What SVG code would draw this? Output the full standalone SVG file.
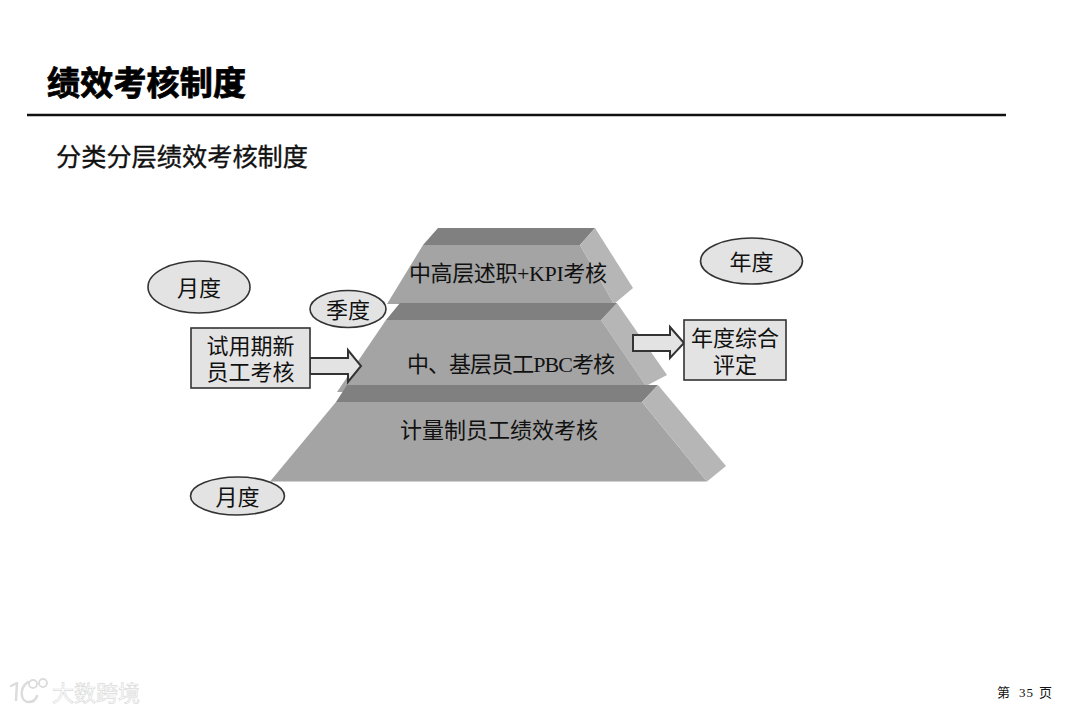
<svg xmlns="http://www.w3.org/2000/svg" width="1080" height="712" viewBox="0 0 1080 712">
<style>
text{font-family:"Liberation Serif","Noto Sans CJK SC",sans-serif;fill:#111;}
.l{font-size:22px;text-anchor:middle;}
.box{fill:#e3e3e3;stroke:#333;stroke-width:1.6;}
.top{fill:#808080;}.front{fill:#a4a4a4;}.side{fill:#b6b6b6;}
.wm{font-family:"Noto Sans CJK SC",sans-serif;font-size:22px;fill:#fff;stroke:#dcdcdc;stroke-width:.7;}
.f{font-size:13px;}
</style>
<rect width="1080" height="712" fill="#fff"/>
<g id="header">
<text x="47" y="95" textLength="199" style="font-family:'Noto Sans CJK SC',sans-serif;font-size:33px;font-weight:700;fill:#000;stroke:#000;stroke-width:.8">绩效考核制度</text>
<line x1="27" y1="115" x2="1006" y2="115" stroke="#111" stroke-width="2.6"/>
<text x="56" y="166" textLength="252" style="font-size:25.200px;font-family:'Noto Sans CJK SC',sans-serif;stroke:#111;stroke-width:.35">分类分层绩效考核制度</text>
</g>
<g id="tier-top">
<polygon class="front" points="423,245 580,245 614,304 387,304"/>
<polygon class="top" points="438,228 595,228 580,245 423,245"/>
<polygon class="side" points="595,228 633,288 614,304 580,245"/>
<text class="l" x="508" y="281" textLength="198">中高层述职+KPI考核</text>
</g>
<g id="tier-middle">
<polygon class="side" points="617,303 667,375 646,386 601,320"/>
<polygon class="front" points="386,320 601,320 646,386 640,392 337,392"/>
<polygon class="top" points="400,303 617,303 601,320 386,320"/>
<text class="l" x="511" y="372" textLength="208">中、基层员工PBC考核</text>
</g>
<g id="tier-bottom">
<polygon class="front" points="336,402 642,402 707,481.500 270,481.500"/>
<polygon class="top" points="347,385 658,385 642,402 336,402"/>
<polygon class="side" points="658,385 726,466 707,481.500 642,402"/>
<text class="l" x="499" y="438">计量制员工绩效考核</text>
</g>
<g id="oval-month-1">
<ellipse class="box" cx="199" cy="287" rx="51" ry="26"/>
<text class="l" x="199" y="296">月度</text>
</g>
<g id="oval-quarter">
<ellipse class="box" cx="348" cy="309" rx="38" ry="18.500"/>
<text class="l" x="348" y="318">季度</text>
</g>
<g id="oval-year">
<ellipse class="box" cx="751.500" cy="261" rx="51" ry="23"/>
<text class="l" x="751.500" y="270">年度</text>
</g>
<g id="oval-month-2">
<ellipse class="box" cx="237.500" cy="496" rx="47" ry="19"/>
<text class="l" x="237.500" y="505">月度</text>
</g>
<g id="connectors">
<polygon class="box" style="stroke-width:2" points="310,358 348,358 348,350 361,366 348,382 348,374 310,374"/>
<polygon class="box" style="stroke-width:2" points="633,335 670,335 670,327 684,343 670,358 670,351 633,351"/>
</g>
<g id="box-probation">
<rect class="box" x="191" y="328" width="119" height="60"/>
<text class="l" x="250.500" y="354">试用期新</text>
<text class="l" x="250.500" y="380">员工考核</text>
</g>
<g id="box-annual">
<rect class="box" x="684" y="320" width="102" height="60"/>
<text class="l" x="735" y="346">年度综合</text>
<text class="l" x="735" y="373">评定</text>
</g>
<g id="footer">
<text class="f" x="997" y="697">第</text>
<text class="f" x="1019" y="697" letter-spacing="1">35</text>
<text class="f" x="1039" y="697">页</text>
</g>
<g id="watermark">
<path d="M11,686 L17,683 L16,700 M28,682 C19,688 20,702 29,702 C34,702 36,699 37,696" fill="none" stroke="#dcdcdc" stroke-width="2.500" stroke-linecap="round" stroke-linejoin="round"/>
<circle cx="33" cy="684" r="4" fill="none" stroke="#dcdcdc" stroke-width="1.800"/>
<circle cx="43" cy="683" r="4" fill="none" stroke="#dcdcdc" stroke-width="1.800"/>
<text class="wm" x="52" y="701">大数跨境</text>
</g>
</svg>
